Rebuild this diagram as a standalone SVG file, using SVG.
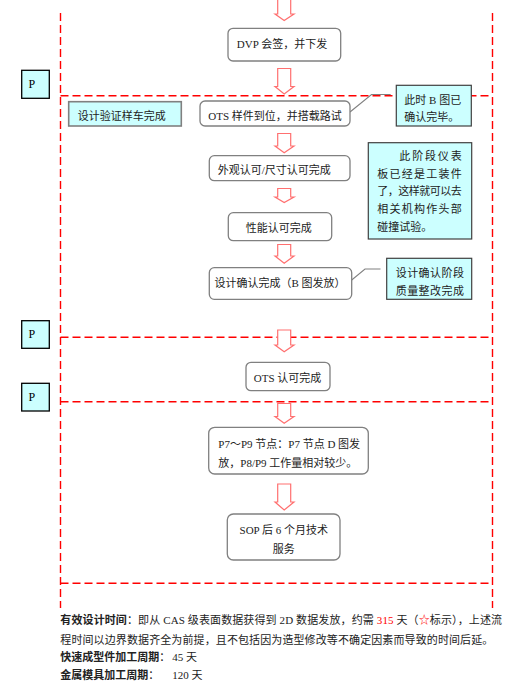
<svg xmlns="http://www.w3.org/2000/svg" width="518" height="685" viewBox="0 0 518 685">
<style>
.bg{fill:#ffffff}
.dash{stroke:#ff0000;stroke-width:1.4;stroke-dasharray:8,4;fill:none}
.arr{fill:#ffffff;stroke:#ff7070;stroke-width:1.2}
.box{fill:#ffffff;stroke:#808080;stroke-width:1.3}
.cyan{fill:#ccffff;stroke:#404040;stroke-width:1.2}
.cyan2{fill:#ccffff;stroke:#808080;stroke-width:1.6}
.pbox{fill:#ccffff;stroke:#000000;stroke-width:1.3}
.call{stroke:#808080;stroke-width:1.1;fill:none}
text{font-family:"Liberation Serif","Noto Sans CJK SC",serif;font-size:11px;fill:#222222}
.mid{text-anchor:middle}
.mono{font-family:"Liberation Serif",serif;font-size:12px;fill:#000}
.b{font-weight:bold}
.red{fill:#ff0000}
</style>
<rect class="bg" x="0" y="0" width="518" height="685"/>

<g id="frame">
<line class="dash" x1="60.5" y1="13" x2="60.5" y2="608"/>
<line class="dash" x1="492.5" y1="13" x2="492.5" y2="608"/>
<line class="dash" x1="60.5" y1="95.7" x2="492.5" y2="95.7"/>
<line class="dash" x1="60.5" y1="337.3" x2="492.5" y2="337.3"/>
<line class="dash" x1="60.5" y1="401.7" x2="492.5" y2="401.7"/>
<line class="dash" x1="60.5" y1="583.3" x2="492.5" y2="583.3"/>
</g>

<g id="connectors">
<path class="arr" d="M277.7,-1 H290.7 V14 H294 L284.2,20.5 L275,14 H277.7 Z"/>
<path class="arr" d="M277.7,68.5 H290.7 V86.5 H294 L284.2,94 L275,86.5 H277.7 Z"/>
<path class="arr" d="M277.7,133.5 H290.7 V146 H294 L284.2,152.7 L275,146 H277.7 Z"/>
<path class="arr" d="M277.7,188.5 H290.7 V197 H294 L284.2,202.5 L275,197 H277.7 Z"/>
<path class="arr" d="M277.7,244.5 H290.7 V256 H294 L284.2,263.3 L275,256 H277.7 Z"/>
<path class="arr" d="M277.7,330 H290.7 V345 H294 L284.2,351.7 L275,345 H277.7 Z"/>
<path class="arr" d="M277.7,403.5 H290.7 V416.5 H294 L284.2,423.3 L275,416.5 H277.7 Z"/>
<path class="arr" d="M277.7,484 H290.7 V502 H294 L284.2,510 L275,502 H277.7 Z"/>
<polyline class="call" points="350,112 371.5,94.5 390.7,94.5"/>
<polyline class="call" points="351.7,280 365,269 380.5,269"/>
</g>

<g id="p1"><rect class="pbox" x="21.7" y="70.3" width="27.6" height="28"/><text class="mono" x="28.5" y="88">P</text></g>
<g id="p2"><rect class="pbox" x="21.7" y="320.7" width="27.6" height="27.6"/><text class="mono" x="28.5" y="338">P</text></g>
<g id="p3"><rect class="pbox" x="21.7" y="383.3" width="27.6" height="27.7"/><text class="mono" x="28.5" y="400.5">P</text></g>

<g id="n-dvp"><rect class="box" x="228" y="28.3" width="112.7" height="32.7" rx="5"/><text class="mid" x="282" y="47.8">DVP 会签，并下发</text></g>

<g id="n-verify"><rect class="cyan2" x="68.7" y="101.7" width="112.6" height="24.3"/><text x="77.7" y="119.8">设计验证样车完成</text></g>

<g id="n-ots-road"><rect class="box" x="200" y="101" width="150" height="25" rx="5"/><text class="mid" x="275" y="119.8">OTS 样件到位，并搭载路试</text></g>

<g id="c-bdone"><rect class="cyan" x="396.3" y="85.3" width="75" height="40.7"/><text x="404.3" y="104">此时 B 图已</text><text x="404.3" y="120.5">确认完毕。</text></g>

<g id="n-appearance"><rect class="box" x="209.3" y="155.7" width="140.7" height="25" rx="5"/><text class="mid" x="274.2" y="174">外观认可/尺寸认可完成</text></g>

<g id="c-ip"><rect class="cyan" x="368.3" y="142.7" width="103.4" height="96.3"/>
<text x="399.3" y="160.2" textLength="62.4" lengthAdjust="spacing">此阶段仪表</text>
<text x="377.3" y="178" textLength="84.4" lengthAdjust="spacing">板已经是工装件</text>
<text x="377.3" y="195" textLength="84.4" lengthAdjust="spacing">了，这样就可以去</text>
<text x="377.3" y="213" textLength="84.4" lengthAdjust="spacing">相关机构作头部</text>
<text x="377.3" y="230.5">碰撞试验。</text>
</g>

<g id="n-perf"><rect class="box" x="228.3" y="212.7" width="103.4" height="28" rx="5"/><text class="mid" x="278.7" y="232">性能认可完成</text></g>

<g id="n-design"><rect class="box" x="209.3" y="267.7" width="142.4" height="31.6" rx="5"/><text class="mid" x="280" y="287.2">设计确认完成（B 图发放）</text></g>

<g id="c-quality"><rect class="cyan" x="386.7" y="258.3" width="85" height="41"/><text x="395.7" y="277" textLength="68.3" lengthAdjust="spacing">设计确认阶段</text><text x="395.7" y="294.7" textLength="68.3" lengthAdjust="spacing">质量整改完成</text></g>

<g id="n-ots"><rect class="box" x="246" y="362.3" width="84" height="28.4" rx="5"/><text class="mid" x="287.5" y="381.5">OTS 认可完成</text></g>

<g id="n-p7p9"><rect class="box" x="208.7" y="427.3" width="159.6" height="46.7" rx="6"/><text x="218.3" y="447.5">P7～P9 节点：P7 节点 D 图发</text><text x="218.3" y="466.5">放，P8/P9 工作量相对较少。</text></g>

<g id="n-sop"><rect class="box" x="227.3" y="514" width="112.7" height="46" rx="6"/><text class="mid" x="283.8" y="534">SOP 后 6 个月技术</text><text class="mid" x="283.8" y="552.5">服务</text></g>

<g id="notes">
<text x="60.3" y="624" textLength="441.7" lengthAdjust="spacing"><tspan class="b">有效设计时间</tspan>：即从 CAS 级表面数据获得到 2D 数据发放，约需 <tspan class="red">315</tspan> 天（<tspan class="red">☆</tspan>标示），上述流</text>
<text x="60.3" y="643.5" textLength="433" lengthAdjust="spacing">程时间以边界数据齐全为前提，且不包括因为造型修改等不确定因素而导致的时间后延。</text>
<text x="60.3" y="661"><tspan class="b">快速成型件加工周期</tspan>：</text><text x="172.3" y="661">45 天</text>
<text x="60.3" y="679"><tspan class="b">金属模具加工周期</tspan>：</text><text x="172.3" y="679">120 天</text>
</g>
</svg>
